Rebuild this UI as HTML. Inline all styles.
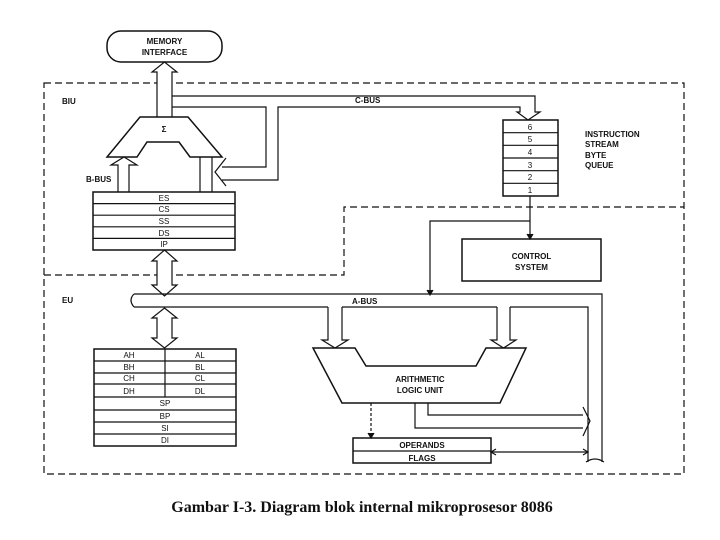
<!DOCTYPE html>
<html><head><meta charset="utf-8"><style>
html,body{margin:0;padding:0;background:#fff;}
svg{display:block;}
text{font-family:"Liberation Sans",sans-serif;font-size:8px;fill:#111;}
</style></head><body>
<svg width="720" height="540" viewBox="0 0 720 540" xmlns="http://www.w3.org/2000/svg">
<g fill="none" stroke="#111" stroke-width="1.2">
<!-- dashed regions -->
<g stroke-dasharray="7,4">
<path d="M44 83 H684 V474 H44 Z"/>
<path d="M44 275 H344 V207 H684"/>
</g>
<!-- memory interface -->
<rect x="107" y="31" width="115" height="31" rx="14" stroke-width="1.5"/>
<!-- arrow up from sigma -->
<path d="M157 117 V72 H152 L164.5 62 L177 72 H172 V117" fill="#fff"/>
<!-- C-BUS -->
<path d="M172 96 H535 V112 H540 L528 120 L517 112 H520 V107 H278 V180 H222"/>
<path d="M172 107 H266 V167 H222"/>
<path d="M226 158 L215 172 L226 186"/>
<!-- sigma -->
<path d="M140 117 H188 L222 157 H190 L179 142 H147 L137 157 H107 Z" fill="#fff" stroke-width="1.5"/>
<!-- B-BUS arrow -->
<path d="M118 192 V165 H111 L124 157 L137 165 H129 V192" fill="#fff"/>
<path d="M200 157 V192 M212 157 V192"/>
<!-- segment regs -->
<rect x="93" y="192" width="142" height="58" stroke-width="1.5"/>
<path d="M93 203.6 H235 M93 215.2 H235 M93 226.8 H235 M93 238.4 H235"/>
<!-- double arrow IP->bus -->
<path d="M164.5 250 L177 261 H172 V285 H177 L164.5 296 L152 285 H157 V261 H152 Z" fill="#fff"/>
<!-- EU bus -->
<path d="M134 294 H602 V462 M134 307 H328 M342 307 H497 M510 307 H588 V462"/>
<path d="M134 294 Q128 300 134 307"/>
<path d="M586 462 Q595 456 604 462"/>
<!-- double arrow bus->GP -->
<path d="M164.5 308 L177 318 H172 V338 H177 L164.5 348 L152 338 H157 V318 H152 Z" fill="#fff"/>
<!-- GP regs -->
<rect x="94" y="349" width="142" height="97" stroke-width="1.5"/>
<path d="M94 361 H236 M94 373 H236 M94 384 H236 M94 397 H236 M94 410 H236 M94 422 H236 M94 434 H236 M165 349 V397"/>
<!-- A-bus arrows -->
<path d="M328 307 V340 H322 L335 348 L348 340 H342 V307"/>
<path d="M497 307 V340 H491 L503.5 348 L516 340 H510 V307"/>
<!-- ALU -->
<path d="M313 348 H355 L366 366 H476 L486 348 H526 L500 403 H342 Z" fill="#fff" stroke-width="1.5"/>
<!-- ALU outputs -->
<path d="M415 403 V428 H583 M428 403 V415 H583 M583 407 L590 421 L583 436"/>
<path d="M371 403 V435" stroke-dasharray="3,2"/>
<path d="M368 433 L371 438 L374 433" fill="#111"/>
<!-- operands/flags -->
<rect x="353" y="438" width="138" height="25" stroke-width="1.5"/>
<path d="M353 451 H491 M491 452 H588"/>
<path d="M496 449 L491 452 L496 455 M583 449 L588 452 L583 455"/>
<!-- queue -->
<rect x="503" y="120" width="55" height="76" stroke-width="1.5"/>
<path d="M503 132.7 H558 M503 145.3 H558 M503 158 H558 M503 170.7 H558 M503 183.3 H558"/>
<!-- control -->
<rect x="462" y="239" width="139" height="42" stroke-width="1.5"/>
<path d="M530 196 V236 M530 221 H430 V292"/>
<path d="M527 234 L530 239 L533 234 M427 290 L430 295 L433 290" fill="#111"/>
</g>
<g font-weight="bold">
<text x="164.5" y="44" text-anchor="middle">MEMORY</text>
<text x="164.5" y="55" text-anchor="middle">INTERFACE</text>
<text x="62" y="104">BIU</text>
<text x="62" y="303">EU</text>
<text x="355" y="103">C-BUS</text>
<text x="86" y="182">B-BUS</text>
<text x="164" y="132" text-anchor="middle" font-size="9">Σ</text>
<text x="585" y="137">INSTRUCTION</text>
<text x="585" y="147">STREAM</text>
<text x="585" y="158">BYTE</text>
<text x="585" y="168">QUEUE</text>
<text x="531.5" y="259" text-anchor="middle">CONTROL</text>
<text x="531.5" y="270" text-anchor="middle">SYSTEM</text>
<text x="352" y="304">A-BUS</text>
<text x="420" y="382" text-anchor="middle">ARITHMETIC</text>
<text x="420" y="393" text-anchor="middle">LOGIC UNIT</text>
<text x="422" y="448" text-anchor="middle">OPERANDS</text>
<text x="422" y="461" text-anchor="middle">FLAGS</text>
</g>
<g text-anchor="middle" font-weight="normal">
<text x="164" y="201">ES</text><text x="164" y="212">CS</text><text x="164" y="224">SS</text><text x="164" y="236">DS</text><text x="164" y="247">IP</text>
<text x="530" y="130">6</text><text x="530" y="142">5</text><text x="530" y="155">4</text><text x="530" y="168">3</text><text x="530" y="180">2</text><text x="530" y="193">1</text>
<text x="129" y="358">AH</text><text x="200" y="358">AL</text>
<text x="129" y="370">BH</text><text x="200" y="370">BL</text>
<text x="129" y="381">CH</text><text x="200" y="381">CL</text>
<text x="129" y="394">DH</text><text x="200" y="394">DL</text>
<text x="165" y="406">SP</text><text x="165" y="419">BP</text><text x="165" y="431">SI</text><text x="165" y="443">DI</text>
</g>
<text x="362" y="512" text-anchor="middle" style="font-family:'Liberation Serif',serif;font-size:16px;font-weight:bold">Gambar I-3. Diagram blok internal mikroprosesor 8086</text>
</svg>
</body></html>
